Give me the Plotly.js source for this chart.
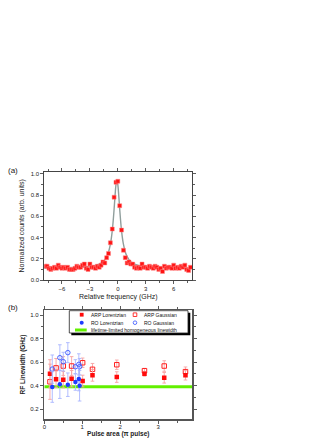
<!DOCTYPE html>
<html>
<head>
<meta charset="utf-8">
<script src="https://cdn.plot.ly/plotly-3.0.1.min.js"></script>
<style>html,body{margin:0;padding:0;background:#fff}#chart{width:316px;height:446px}</style>
</head>
<body>
<div id="chart"></div>
<script>
// ---------- Panel (a): spectrum ----------
const freqGHz = [-7.8,-7.6,-7.4,-7.2,-7.0,-6.8,-6.6,-6.4,-6.2,-6.0,-5.8,-5.6,-5.4,-5.2,-5.0,-4.8,-4.6,-4.4,-4.2,-4.0,
  -3.8,-3.6,-3.4,-3.2,-3.0,-2.8,-2.6,-2.4,-2.2,-2.0,-1.8,-1.6,-1.4,-1.2,-1.0,-0.8,-0.6,-0.4,-0.2,0.0,
  0.2,0.4,0.6,0.8,1.0,1.2,1.4,1.6,1.8,2.0,2.2,2.4,2.6,2.8,3.0,3.2,3.4,3.6,3.8,4.0,
  4.2,4.4,4.6,4.8,5.0,5.2,5.4,5.6,5.8,6.0,6.2,6.4,6.6,6.8,7.0,7.2,7.4,7.6,7.8];
const counts = [0.13,0.13,0.11,0.10,0.11,0.12,0.11,0.14,0.12,0.11,0.12,0.11,0.12,0.10,0.10,0.10,0.11,0.13,0.12,0.12,
  0.14,0.15,0.11,0.10,0.15,0.12,0.12,0.11,0.13,0.12,0.14,0.17,0.16,0.21,0.25,0.35,0.48,0.78,0.92,0.93,
  0.70,0.47,0.28,0.21,0.16,0.17,0.15,0.15,0.12,0.11,0.12,0.11,0.15,0.12,0.12,0.11,0.13,0.12,0.11,0.13,
  0.12,0.10,0.11,0.08,0.13,0.11,0.12,0.12,0.11,0.14,0.11,0.12,0.11,0.13,0.12,0.14,0.10,0.09,0.12];
// fit curve
const fitX = [-8.0,-6.0,-4.0,-3.0,-2.0,-1.5,-1.2,-1.0,-0.8,-0.6,-0.4,-0.3,-0.2,-0.1,0.0,0.1,0.2,0.4,0.6,0.8,1.0,1.3,1.8,2.8,4.0,6.0,8.0];
const fitY = [0.112,0.114,0.120,0.128,0.150,0.180,0.220,0.264,0.337,0.463,0.668,0.793,0.897,0.940,0.897,0.793,0.668,0.463,0.337,0.264,0.220,0.180,0.150,0.128,0.120,0.114,0.112];

// ---------- Panel (b): linewidths ----------
const arpX      = [0.15,0.31,0.50,0.72,1.01,1.27,1.91,2.64,3.16,3.72];
const arpLor    = [0.50,0.453,0.45,0.458,0.438,0.487,0.472,0.50,0.466,0.487];
const arpLorErr = [0.12,0.07,0.07,0.07,0.05,0.05,0.045,0.02,0.045,0.04];
const arpGau    = [0.432,0.55,0.566,0.566,0.594,0.538,0.577,0.526,0.566,0.518];
const arpGauErr = [0.15,0.08,0.08,0.08,0.04,0.05,0.04,0.02,0.045,0.04];
const roLorX    = [0.21,0.41,0.62,0.82,0.91,0.93];
const roLor     = [0.387,0.41,0.407,0.43,0.455,0.398];
const roLorErr  = [0.13,0.12,0.10,0.07,0.10,0.13];
const roGauX    = [0.21,0.41,0.50,0.62,0.82,0.91,0.93];
const roGau     = [0.54,0.637,0.603,0.68,0.56,0.58,0.56];
const roGauErr  = [0.12,0.11,0.08,0.085,0.06,0.09,0.07];
const lifetimeX = [0,3.9];
const lifetimeY = [0.39,0.39];

const FONT = 'Liberation Sans, Arial, sans-serif';
const W = 316, H = 446;
const px = x => x / W;
const py = y => 1 - y / H;

const traces = [
  {x: fitX, y: fitY, type:'scatter', mode:'lines', line:{color:'#8f9e9c', width:1.4, shape:'spline'}, xaxis:'x', yaxis:'y'},
  {x: freqGHz, y: counts, type:'scatter', mode:'markers', marker:{symbol:'square', size:4, color:'#ff1414', line:{color:'#ff8a8a', width:0.5}}, xaxis:'x', yaxis:'y'},

  {x: lifetimeX, y: lifetimeY, type:'scatter', mode:'lines', line:{color:'#62f000', width:3}, xaxis:'x2', yaxis:'y2'},
  {x: arpX, y: arpGau, type:'scatter', mode:'markers', marker:{symbol:'square-open', size:4.5, color:'#ff2020', line:{width:1}},
    error_y:{type:'data', array: arpGauErr, color:'#f7a3a3', thickness:0.9, width:1.8}, xaxis:'x2', yaxis:'y2'},
  {x: arpX, y: arpLor, type:'scatter', mode:'markers', marker:{symbol:'square', size:4.5, color:'#ff0a0a'},
    error_y:{type:'data', array: arpLorErr, color:'#f7a3a3', thickness:0.9, width:1.8}, xaxis:'x2', yaxis:'y2'},
  {x: roGauX, y: roGau, type:'scatter', mode:'markers', marker:{symbol:'circle-open', size:4.5, color:'#4a64ff', line:{width:1}},
    error_y:{type:'data', array: roGauErr, color:'#a9b6ff', thickness:0.9, width:1.8}, xaxis:'x2', yaxis:'y2'},
  {x: roLorX, y: roLor, type:'scatter', mode:'markers', marker:{symbol:'circle', size:4.5, color:'#1e3cff'},
    error_y:{type:'data', array: roLorErr, color:'#a9b6ff', thickness:0.9, width:1.8}, xaxis:'x2', yaxis:'y2'}
];

const axisCommon = {
  showgrid:false, zeroline:false, showline:true, mirror:'ticks',
  ticks:'outside', ticklen:3, tickwidth:0.8, tickcolor:'#333',
  tickfont:{family:FONT, size:6, color:'#222'}
};

const layout = {
  width: W, height: H,
  margin:{l:0,r:0,t:0,b:0},
  paper_bgcolor:'#fff', plot_bgcolor:'#fff',
  showlegend:false,
  xaxis: Object.assign({}, axisCommon, {
    domain:[px(44.3), px(192.3)], anchor:'y', range:[-7.9, 8.0], dtick:3, tick0:0,
    linecolor:'#444', linewidth:1,
    minor:{dtick:1.5, ticklen:2, tickcolor:'#333', ticks:'outside'},
    title:{text:'Relative frequency (GHz)', font:{family:FONT, size:7, color:'#222'}, standoff:2}
  }),
  yaxis: Object.assign({}, axisCommon, {
    domain:[py(280), py(171.7)], anchor:'x', range:[0, 1.02], dtick:0.2, tickformat:'.1f',
    linecolor:'#444', linewidth:1,
    minor:{dtick:0.1, ticklen:2, tickcolor:'#333', ticks:'outside'},
    title:{text:'Normalized counts (arb. units)', font:{family:FONT, size:7, color:'#222'}, standoff:5}
  }),
  xaxis2: Object.assign({}, axisCommon, {
    domain:[px(44.3), px(192.3)], anchor:'y2', range:[0, 3.9], dtick:1, tick0:0,
    linecolor:'#555', linewidth:1.5, ticklabelstandoff:-2,
    minor:{dtick:0.5, ticklen:2, tickcolor:'#333', ticks:'outside'},
    title:{text:'<b>Pulse area (π pulse)</b>', font:{family:FONT, size:6.5, color:'#222'}, standoff:0}
  }),
  yaxis2: Object.assign({}, axisCommon, {
    domain:[py(419), py(310)], anchor:'x2', range:[0.115, 1.043], dtick:0.2, tick0:0, tickformat:'.1f',
    linecolor:'#555', linewidth:1.5,
    minor:{dtick:0.1, ticklen:2, tickcolor:'#333', ticks:'outside'},
    title:{text:'<b>RF Linewidth (GHz)</b>', font:{family:FONT, size:6.5, color:'#222'}, standoff:4}
  }),
  shapes: [
    // legend box with shadow
    {type:'rect', xref:'paper', yref:'paper', x0:px(71.3), x1:px(190.3), y0:py(335.2), y1:py(312.7), fillcolor:'#000', line:{width:0}},
    {type:'rect', xref:'paper', yref:'paper', x0:px(69.3), x1:px(188), y0:py(333), y1:py(310.7), fillcolor:'#fff', line:{color:'#222', width:0.8}},
    // legend symbols
    {type:'rect', xref:'paper', yref:'paper', x0:px(79.8), x1:px(83.6), y0:py(316.6), y1:py(312.8), fillcolor:'#ff0a0a', line:{width:0}},
    {type:'rect', xref:'paper', yref:'paper', x0:px(133.2), x1:px(136.8), y0:py(316.5), y1:py(312.9), fillcolor:'#fff', line:{color:'#ff2020', width:0.9}},
    {type:'circle', xref:'paper', yref:'paper', x0:px(79.7), x1:px(83.7), y0:py(324.7), y1:py(320.7), fillcolor:'#1e3cff', line:{width:0}},
    {type:'circle', xref:'paper', yref:'paper', x0:px(133.2), x1:px(136.8), y0:py(324.5), y1:py(320.9), fillcolor:'#fff', line:{color:'#4a64ff', width:0.9}},
    {type:'line', xref:'paper', yref:'paper', x0:px(75), x1:px(86.7), y0:py(330), y1:py(330), line:{color:'#62f000', width:3}}
  ],
  annotations: [
    {text:'(a)', xref:'paper', yref:'paper', x:px(12.5), y:py(170.7), xanchor:'center', yanchor:'middle', showarrow:false, font:{family:FONT, size:8, color:'#222'}},
    {text:'(b)', xref:'paper', yref:'paper', x:px(12.5), y:py(307.3), xanchor:'center', yanchor:'middle', showarrow:false, font:{family:FONT, size:8, color:'#222'}},
    {text:'ARP Lorentzian', xref:'paper', yref:'paper', x:px(89.3), y:py(314.7), xanchor:'left', yanchor:'middle', showarrow:false, font:{family:FONT, size:5, color:'#111'}},
    {text:'ARP Gaussian', xref:'paper', yref:'paper', x:px(142), y:py(314.7), xanchor:'left', yanchor:'middle', showarrow:false, font:{family:FONT, size:5, color:'#111'}},
    {text:'RO Lorentzian', xref:'paper', yref:'paper', x:px(89.3), y:py(322.7), xanchor:'left', yanchor:'middle', showarrow:false, font:{family:FONT, size:5, color:'#111'}},
    {text:'RO Gaussian', xref:'paper', yref:'paper', x:px(142), y:py(322.7), xanchor:'left', yanchor:'middle', showarrow:false, font:{family:FONT, size:5, color:'#111'}},
    {text:'lifetime-limited homogeneous linewidth', xref:'paper', yref:'paper', x:px(89.3), y:py(330), xanchor:'left', yanchor:'middle', showarrow:false, font:{family:FONT, size:5, color:'#111'}}
  ]
};

Plotly.newPlot('chart', traces, layout, {staticPlot:true, displayModeBar:false});
</script>
</body>
</html>
